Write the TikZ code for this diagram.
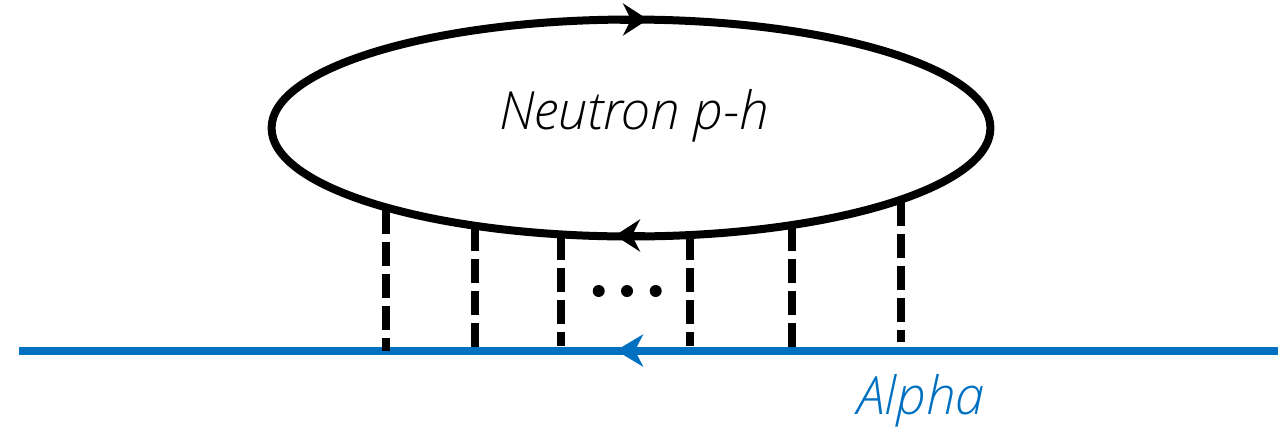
\documentclass[tikz,border=0pt]{standalone}
\usepackage{fontspec}
\setmainfont{Open Sans Light}[ItalicFont={Open Sans Light Italic}]
\usepackage{xcolor}
\usepackage{tikz}
\usetikzlibrary{positioning,arrows.meta,shapes.geometric}
\definecolor{alphablue}{HTML}{0070C0}

\begin{document}
\begin{tikzpicture}[x=0.02cm, y=-0.02cm, font=\itshape\fontsize{30}{36}\selectfont]
  \tikzstyle{loopline}=[draw, ellipse, line width=0.16cm, minimum width=14.38cm, minimum height=4.34cm, inner sep=0pt]
  \tikzstyle{rung}=[line width=0.16cm, dash pattern=on 0.48cm off 0.16cm]
  \tikzstyle{beam}=[line width=0.16cm, alphablue]
  \tikzstyle{blacktip}=[line width=0.16cm, -{Stealth[length=0.5cm, width=0.64cm, inset=0.16cm]}]
  \tikzstyle{bluetip}=[line width=0.16cm, alphablue, -{Stealth[length=0.54cm, width=0.64cm, inset=0.16cm]}]
  \tikzstyle{dotmark}=[circle, fill, inner sep=0pt, minimum size=0.24cm]
  \useasboundingbox (0,0) rectangle (1278,427);
  \node[loopline] (loop) at (631,128) {};
  \node[anchor=base] (name) at (634,129) {Neutron p-h};
  \node[anchor=base, text=alphablue] (alpha) at (921,414) {Alpha};
  \coordinate (beamL) at (19,350.5);
  \coordinate (beamR) at (1278,350.5);
  \draw[beam] (beamL) -- (beamR);
  \foreach \i/\xx/\ytop/\ybot in {1/385.5/210/351, 2/475/227/347, 3/561/236/346, 4/690/236/346, 5/792/227/347, 6/900.5/202/342} {
    \coordinate (top\i) at (\xx,\ytop);
    \coordinate (bot\i) at (\xx,\ybot);
    \draw[rung] (top\i) -- (bot\i);
  }
  \foreach \i/\xx in {1/598.7, 2/627, 3/655.7}
    \node[dotmark] (dot\i) at (\xx,291) {};
  \coordinate (upS) at (620,19.5);
  \coordinate (upE) at (648,19.5);
  \coordinate (lowS) at (645,235.5);
  \coordinate (lowE) at (615,235.5);
  \coordinate (blueS) at (650,350.5);
  \coordinate (blueE) at (616,350.5);
  \draw[blacktip] (upS) -- (upE);
  \draw[blacktip] (lowS) -- (lowE);
  \draw[bluetip] (blueS) -- (blueE);
\end{tikzpicture}
\end{document}
